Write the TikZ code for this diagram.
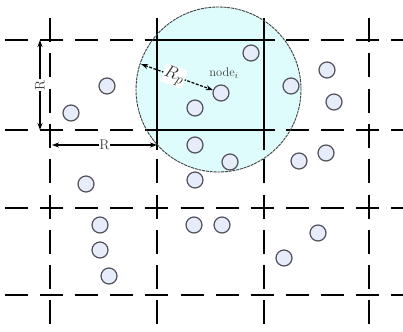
\documentclass[tikz,border=0pt]{standalone}
\usetikzlibrary{arrows.meta}
\definecolor{circfill}{RGB}{222,252,252}
\definecolor{nodefill}{RGB}{230,236,250}
\definecolor{nodeline}{RGB}{80,80,90}
\begin{document}
\begin{tikzpicture}[x=1pt,y=-1pt,
  pt/.style={circle,draw=nodeline,fill=nodefill,line width=1.2pt,minimum size=16pt,inner sep=0pt},
  gridh/.style={line width=1.3pt,dash pattern=on 23pt off 12.1pt},
  gridv/.style={line width=1.3pt,dash pattern=on 24pt off 11.3pt},
  solidl/.style={line width=1.3pt},
  circline/.style={draw=black!75,line width=0.9pt,dash pattern=on 3pt off 0.8pt},
  dimline/.style={line width=1.2pt,{Stealth[length=7pt,width=5pt]}-{Stealth[length=7pt,width=5pt]}},
  lbl/.style={fill=white,inner sep=0.8pt,text=black!75,font=\fontsize{14}{16}\selectfont}]
\useasboundingbox (0,0) rectangle (403,331);
% neighbourhood circle fill
\fill[circfill] (218.5,89.5) circle[radius=82.5pt];
% dashed grid
\foreach \y in {40,130,208,295} \draw[gridh] (5,\y) -- (403,\y);
\foreach \x in {50,157,264,369} \draw[gridv] (\x,18) -- (\x,331);
% solid cell
\draw[solidl] (147,40) -- (275,40);
\draw[solidl] (147,130) -- (275,130);
\draw[solidl] (157,20) -- (157,150);
\draw[solidl] (264,20) -- (264,150);
% circle outline
\draw[circline] (218.5,89.5) circle[radius=82.5pt];
% nodes
\node[pt] (n1) at (107,86) {};
\node[pt] (n2) at (71,113) {};
\node[pt] (n3) at (251,53) {};
\node[pt] (ni) at (221,93) {};
\node[pt] (n5) at (195,108) {};
\node[pt] (n6) at (195,145) {};
\node[pt] (n7) at (230,162) {};
\node[pt] (n8) at (195,180) {};
\node[pt] (n9) at (291,86) {};
\node[pt] (n10) at (327,70) {};
\node[pt] (n11) at (334,102) {};
\node[pt] (n12) at (299,161) {};
\node[pt] (n13) at (326,153) {};
\node[pt] (n14) at (86,184) {};
\node[pt] (n15) at (100,225) {};
\node[pt] (n16) at (100,250) {};
\node[pt] (n17) at (109,276) {};
\node[pt] (n18) at (194,225) {};
\node[pt] (n19) at (222,225) {};
\node[pt] (n20) at (318,233) {};
\node[pt] (n21) at (284,258) {};
% R_p radius
\coordinate (rpe) at (141,64);
\draw[dimline,dash pattern=on 3pt off 1.5pt] (rpe) -- (ni);
\node[fill=white,inner sep=1pt,rotate=-20,text=black!80,font=\fontsize{19}{21}\selectfont] (rp) at (174,76) {$R_p$};
\node[text=black!75,font=\fontsize{12.5}{14}\selectfont] (nlab) at (224,73) {node$_i$};
% R dimensions
\coordinate (va) at (40,40);
\coordinate (vb) at (40,130);
\draw[dimline] (va) -- (vb) node[midway,lbl,rotate=90] (rv) {R};
\coordinate (ha) at (52,145);
\coordinate (hb) at (157,145);
\draw[dimline] (ha) -- (hb) node[midway,lbl] (rh) {R};
\end{tikzpicture}
\end{document}
